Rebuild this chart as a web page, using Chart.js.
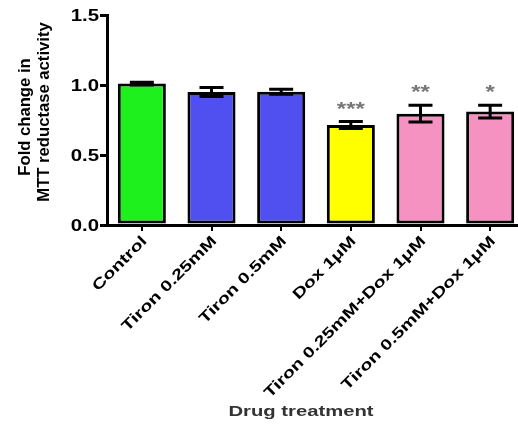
<!DOCTYPE html>
<html>
<head>
<meta charset="utf-8">
<script src="https://cdn.jsdelivr.net/npm/chart.js@4.4.1/dist/chart.umd.min.js"></script>
<style>
  html, body { margin: 0; padding: 0; background: #fff; overflow: hidden; }
  #wrap { width: 540px; height: 426px; }
</style>
</head>
<body>
<div id="wrap"><canvas id="c" width="540" height="426"></canvas></div>
<script>
// MTT assay: fold change in reductase activity per treatment (mean ± SEM)
const categories = ['Control', 'Tiron 0.25mM', 'Tiron 0.5mM', 'Dox 1μM', 'Tiron 0.25mM+Dox 1μM', 'Tiron 0.5mM+Dox 1μM'];
const means = [1.01, 0.95, 0.952, 0.714, 0.795, 0.81];
const sems = [0.01, 0.033, 0.018, 0.025, 0.06, 0.045];
const significance = ['', '', '', '***', '**', '*'];
const barColors = ['#1ef01e', '#5050f0', '#5050f0', '#ffff00', '#f592c2', '#f592c2'];
const yTicks = [0, 0.5, 1.0, 1.5];
const yTitleLines = ['Fold change in', 'MTT reductase activity'];
const xTitle = 'Drug treatment';

const FONT = '"Liberation Sans", Arial, sans-serif';

// Draw text stretched along its own direction
function wideText(ctx, text, x, y, angle, sx, align, baseline) {
  ctx.save();
  ctx.translate(x, y);
  ctx.rotate(angle);
  ctx.scale(sx, 1);
  ctx.textAlign = align;
  ctx.textBaseline = baseline;
  ctx.fillText(text, 0, 0);
  ctx.restore();
}

const errorBars = {
  id: 'errorBars',
  afterDatasetsDraw(chart) {
    const ctx = chart.ctx;
    const y = chart.scales.y;
    const meta = chart.getDatasetMeta(0);
    ctx.save();
    ctx.strokeStyle = '#000';
    ctx.lineWidth = 3;
    meta.data.forEach((bar, i) => {
      const top = y.getPixelForValue(means[i] + sems[i]);
      const bot = y.getPixelForValue(means[i] - sems[i]);
      const half = 12;
      ctx.beginPath();
      ctx.moveTo(bar.x, top); ctx.lineTo(bar.x, bot);
      ctx.moveTo(bar.x - half, top); ctx.lineTo(bar.x + half, top);
      ctx.moveTo(bar.x - half, bot); ctx.lineTo(bar.x + half, bot);
      ctx.stroke();
      if (significance[i]) {
        ctx.fillStyle = '#777';
        ctx.font = 'bold 18px ' + FONT;
        wideText(ctx, significance[i], bar.x, top - 7, 0, 1.33, 'center', 'alphabetic');
      }
    });
    ctx.restore();
  }
};

const axisText = {
  id: 'axisText',
  afterDraw(chart) {
    const ctx = chart.ctx;
    const xs = chart.scales.x;
    const ys = chart.scales.y;
    ctx.save();
    ctx.fillStyle = '#000';
    ctx.font = 'bold 17px ' + FONT;
    yTicks.forEach(v => {
      wideText(ctx, v.toFixed(1), 99, ys.getPixelForValue(v) + 1, 0, 1.2, 'right', 'middle');
    });
    ctx.font = 'bold 15px ' + FONT;
    categories.forEach((c, i) => {
      const px = xs.getPixelForValue(i);
      wideText(ctx, c, px + 3, ys.bottom + 14, -Math.PI / 4, 1.32, 'right', 'middle');
    });
    ctx.font = 'bold 16px ' + FONT;
    wideText(ctx, yTitleLines[0], 26, 117, -Math.PI / 2, 1.04, 'center', 'middle');
    wideText(ctx, yTitleLines[1], 45, 112, -Math.PI / 2, 1.04, 'center', 'middle');
    ctx.fillStyle = '#333';
    ctx.font = 'bold 15px ' + FONT;
    wideText(ctx, xTitle, 301, 412, 0, 1.35, 'center', 'middle');
    ctx.restore();
  }
};

new Chart(document.getElementById('c'), {
  type: 'bar',
  data: {
    labels: categories,
    datasets: [{
      data: means,
      backgroundColor: barColors,
      borderColor: '#000',
      borderWidth: 3,
      borderSkipped: false,
      categoryPercentage: 1,
      barPercentage: 0.69
    }]
  },
  options: {
    responsive: false,
    animation: false,
    devicePixelRatio: 1,
    layout: { padding: { left: 107, right: 15, top: 15, bottom: 201 } },
    plugins: { legend: { display: false }, tooltip: { enabled: false } },
    scales: {
      x: {
        offset: true,
        ticks: { display: false },
        grid: { display: true, offset: false, drawOnChartArea: false, drawTicks: true, tickLength: 6, color: '#000', lineWidth: 2 },
        border: { display: true, color: '#000', width: 3 },
        afterFit(s) { s.height = 0; }
      },
      y: {
        min: 0, max: 1.5,
        ticks: { display: false, stepSize: 0.5 },
        grid: { display: true, drawOnChartArea: false, drawTicks: true, tickLength: 7, color: '#000', lineWidth: 3 },
        border: { display: true, color: '#000', width: 3 },
        afterFit(s) { s.width = 0; }
      }
    }
  },
  plugins: [errorBars, axisText]
});
</script>
</body>
</html>
